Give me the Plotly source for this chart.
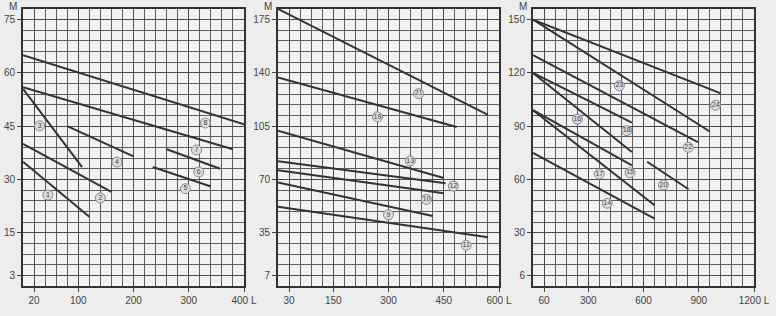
import plotly.graph_objects as go

# ---------------- data (flow L on x, head M on y) ----------------
# panel 1
line1_q = [0, 120];   line1_h = [35, 19.5]
line2_q = [0, 160];   line2_h = [40, 26.5]
line3_q = [0, 107];   line3_h = [55.5, 33.5]
line4_q = [80, 200];  line4_h = [45, 36.5]
line5_q = [235, 340]; line5_h = [33.5, 28]
line6_q = [260, 357]; line6_h = [38.5, 33]
line7_q = [0, 380];   line7_h = [56, 38.5]
line8_q = [0, 400];   line8_h = [65, 45.5]
# panel 2
line9_q = [0, 420];   line9_h = [68, 46]
line10_q = [0, 450];  line10_h = [76, 61]
line11_q = [0, 570];  line11_h = [52, 32]
line12_q = [0, 455];  line12_h = [82, 67.5]
line13_q = [0, 450];  line13_h = [102, 71]
line19_q = [0, 485];  line19_h = [137, 104.5]
line21_q = [0, 570];  line21_h = [182, 112.5]
# panel 3
line14_q = [0, 660];  line14_h = [75, 38]
line15_q = [0, 537];  line15_h = [99, 68]
line16_q = [0, 537];  line16_h = [120, 75.5]
line17_q = [0, 660];  line17_h = [99, 45.5]
line18_q = [0, 537];  line18_h = [120, 92]
line20_q = [620, 845]; line20_h = [70, 54.5]
line22_q = [0, 895];  line22_h = [130, 81]
line23_q = [0, 960];  line23_h = [150, 87]
line24_q = [0, 1020]; line24_h = [150, 108.5]

# curve labels (numbers shown inside small circles)
p1_labels = ["1", "2", "3", "4", "5", "6", "7", "8"]
p1_label_q = [45, 140, 30, 170, 294, 318, 314, 330]
p1_label_h = [25.6, 24.8, 45.1, 34.9, 27.4, 32.1, 38.3, 45.9]
p2_labels = ["9", "10", "11", "12", "13", "19", "21"]
p2_label_q = [300, 403, 511, 476, 359, 270, 382]
p2_label_h = [46.8, 56.9, 26.7, 65.6, 82.2, 111.1, 126.4]
p3_labels = ["14", "15", "16", "17", "18", "20", "22", "23", "24"]
p3_label_q = [403, 527, 241, 360, 509, 708, 843, 469, 992]
p3_label_h = [46.6, 63.8, 94, 63.1, 87.5, 56.9, 78.1, 112.8, 101.8]

# axes
p1_xticks = [20, 100, 200, 300, 400]; p1_xtext = ["20", "100", "200", "300", "400 L"]
p1_yticks = [3, 15, 30, 45, 60, 75]
p2_xticks = [30, 150, 300, 450, 600]; p2_xtext = ["30", "150", "300", "450", "600 L"]
p2_yticks = [7, 35, 70, 105, 140, 175]
p3_xticks = [60, 300, 600, 900, 1200]; p3_xtext = ["60", "300", "600", "900", "1200 L"]
p3_yticks = [6, 30, 60, 90, 120, 150]

panel1 = [(line1_q, line1_h), (line2_q, line2_h), (line3_q, line3_h), (line4_q, line4_h),
          (line5_q, line5_h), (line6_q, line6_h), (line7_q, line7_h), (line8_q, line8_h)]
panel2 = [(line9_q, line9_h), (line10_q, line10_h), (line11_q, line11_h), (line12_q, line12_h),
          (line13_q, line13_h), (line19_q, line19_h), (line21_q, line21_h)]
panel3 = [(line14_q, line14_h), (line15_q, line15_h), (line16_q, line16_h), (line17_q, line17_h),
          (line18_q, line18_h), (line20_q, line20_h), (line22_q, line22_h), (line23_q, line23_h),
          (line24_q, line24_h)]

fig = go.Figure()
LINE_COLOR = "#333333"
LABEL_FONT = dict(family="Liberation Sans Narrow, Liberation Sans, Arial", size=7, color="#444444")

for (lines, labels, lq, lh, xa, ya) in [
    (panel1, p1_labels, p1_label_q, p1_label_h, "x", "y"),
    (panel2, p2_labels, p2_label_q, p2_label_h, "x2", "y2"),
    (panel3, p3_labels, p3_label_q, p3_label_h, "x3", "y3"),
]:
    for q, h in lines:
        fig.add_trace(go.Scatter(x=q, y=h, mode="lines", xaxis=xa, yaxis=ya,
                                 line=dict(color=LINE_COLOR, width=2), hoverinfo="skip"))
    fig.add_trace(go.Scatter(x=lq, y=lh, mode="markers+text", text=labels, xaxis=xa, yaxis=ya,
                             marker=dict(symbol="circle", size=10, color="#dcdcdc",
                                         line=dict(color="#8a8a8a", width=1)),
                             textposition="middle center", textfont=LABEL_FONT, hoverinfo="skip"))

TICKFONT = dict(family="Liberation Sans, Arial", size=10, color="#444444")
W, H = 776, 316
ydom = [1 - 286 / H, 1 - 9 / H]


def xaxis(dom, rng, step, tv, tt, anchor):
    return dict(domain=dom, range=rng, anchor=anchor, tickmode="array", tickvals=tv, ticktext=tt,
                showgrid=True, gridcolor="#4a4a4a", gridwidth=1.4,
                minor=dict(tickmode="linear", tick0=0, dtick=step, showgrid=True,
                           gridcolor="#5e5e5e", gridwidth=1, ticks=""),
                ticks="outside", ticklen=4, tickcolor="#444", tickwidth=1,
                showline=True, linecolor="#333", linewidth=2, mirror=True,
                zeroline=False, tickfont=TICKFONT, automargin=False)


def yaxis(rng, step, tv, anchor):
    return dict(domain=ydom, range=rng, anchor=anchor, tickmode="array", tickvals=tv,
                ticktext=[str(v) for v in tv],
                showgrid=True, gridcolor="#4a4a4a", gridwidth=1.4,
                minor=dict(tickmode="linear", tick0=0, dtick=step, showgrid=True,
                           gridcolor="#5e5e5e", gridwidth=1, ticks=""),
                ticks="outside", ticklen=4, tickcolor="#444", tickwidth=1,
                showline=True, linecolor="#333", linewidth=2, mirror=True,
                zeroline=False, tickfont=TICKFONT, automargin=False)


fig.update_layout(
    width=W, height=H, margin=dict(l=0, r=0, t=0, b=0),
    paper_bgcolor="#ededed", plot_bgcolor="#f2f2f2", showlegend=False,
    xaxis=xaxis([23 / W, 244 / W], [0, 400], 20, p1_xticks, p1_xtext, "y"),
    yaxis=yaxis([0, 78], 3, p1_yticks, "x"),
    xaxis2=xaxis([278 / W, 499 / W], [0, 600], 30, p2_xticks, p2_xtext, "y2"),
    yaxis2=yaxis([0, 182], 7, p2_yticks, "x2"),
    xaxis3=xaxis([533 / W, 754 / W], [0, 1200], 60, p3_xticks, p3_xtext, "y3"),
    yaxis3=yaxis([0, 156], 6, p3_yticks, "x3"),
)

for xr, yr in [("x domain", "y domain"), ("x2 domain", "y2 domain"), ("x3 domain", "y3 domain")]:
    fig.add_annotation(text="M", xref=xr, yref=yr, x=0, y=1, xanchor="center", yanchor="middle",
                       xshift=-10, yshift=3, showarrow=False, font=TICKFONT)

fig.write_html("out.html")
